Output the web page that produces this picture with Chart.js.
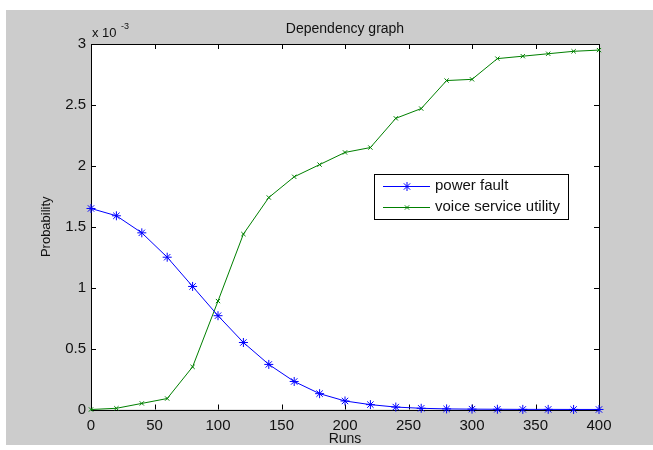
<!DOCTYPE html>
<html>
<head>
<meta charset="utf-8">
<script src="https://cdn.jsdelivr.net/npm/chart.js@4"></script>
<style>
  html, body { margin: 0; padding: 0; background: #ffffff; }
  #wrap { width: 653px; height: 450px; position: relative; }
</style>
</head>
<body>
<div id="wrap"><canvas id="depChart"></canvas></div>
<script>
// Data (probabilities, axis shows them x 10^-3)
const runs = [0, 20, 40, 60, 80, 100, 120, 140, 160, 180, 200, 220, 240, 260, 280, 300, 320, 340, 360, 380, 400];
const powerFault = [0.00165, 0.00159, 0.00145, 0.00125, 0.00101, 0.00077, 0.00055, 0.00037, 0.00023, 0.00013, 0.00007,
    0.00004, 0.00002, 0.00001, 0.000005, 0.000003, 0.000002, 0.000001, 0.000001, 0.0000005, 0.0000003];
const voiceService = [0.0, 0.00001, 0.00005, 0.00009, 0.00035, 0.00089, 0.00144, 0.00174, 0.00191, 0.00201, 0.00211,
    0.00215, 0.00239, 0.00247, 0.00270, 0.00271, 0.00288, 0.00290, 0.00292, 0.00294, 0.00295];
const seriesLabels = ["power fault", "voice service utility"];
const xTicks = [0, 50, 100, 150, 200, 250, 300, 350, 400];
const yTicks = [0, 0.0005, 0.001, 0.0015, 0.002, 0.0025, 0.003];

const FONT = "'Liberation Sans', Arial, sans-serif";

// gray figure background + white axes area
const backgroundPlugin = {
    id: "figureBg",
    beforeDraw(chart) {
        const c = chart.ctx;
        const a = chart.chartArea;
        c.save();
        c.fillStyle = "#cccccc";
        c.fillRect(6, 10, chart.width - 6, 435);
        c.fillStyle = "#ffffff";
        c.fillRect(a.left, a.top, a.right - a.left, a.bottom - a.top);
        c.restore();
    }
};

// matlab style box with inward ticks, title and exponent label
const framePlugin = {
    id: "frame",
    beforeDatasetsDraw(chart) {
        const c = chart.ctx;
        const a = chart.chartArea;
        const xs = chart.scales.x;
        const ys = chart.scales.y;
        c.save();
        c.strokeStyle = "#000000";
        c.lineWidth = 1;
        c.beginPath();
        c.rect(Math.round(a.left) + 0.5, Math.round(a.top) + 0.5,
            Math.round(a.right - a.left), Math.round(a.bottom - a.top));
        xTicks.forEach(v => {
            const px = Math.round(xs.getPixelForValue(v)) + 0.5;
            c.moveTo(px, a.bottom); c.lineTo(px, a.bottom - 5);
            c.moveTo(px, a.top); c.lineTo(px, a.top + 5);
        });
        yTicks.forEach(v => {
            const py = Math.round(ys.getPixelForValue(v)) + 0.5;
            c.moveTo(a.left, py); c.lineTo(a.left + 5, py);
            c.moveTo(a.right, py); c.lineTo(a.right - 5, py);
        });
        c.stroke();

        c.fillStyle = "#111111";
        c.textAlign = "center";
        c.textBaseline = "alphabetic";
        c.font = "14px " + FONT;
        c.fillText("Dependency graph", (a.left + a.right) / 2, 33);

        c.textAlign = "left";
        c.font = "13px " + FONT;
        c.fillText("x 10", 92, 37);
        c.font = "9px " + FONT;
        c.fillText("-3", 121, 29);
        c.restore();
    }
};

// legend box drawn like the matlab one
const legendPlugin = {
    id: "boxLegend",
    afterDraw(chart) {
        const c = chart.ctx;
        const left = 374, top = 174, w = 194, h = 45;
        c.save();
        c.fillStyle = "#ffffff";
        c.fillRect(left, top, w, h);
        c.strokeStyle = "#000000";
        c.lineWidth = 1;
        c.strokeRect(left + 0.5, top + 0.5, w, h);
        const rows = [186, 207];
        chart.data.datasets.forEach((ds, i) => {
            const y = rows[i] + 0.5;
            c.strokeStyle = ds.borderColor;
            c.beginPath();
            c.moveTo(383, y); c.lineTo(430, y);
            c.stroke();
            Chart.helpers.drawPoint(c, {
                pointStyle: ds.pointStyle,
                radius: ds.pointRadius,
                borderWidth: 1
            }, 407, y);
            c.fillStyle = "#111111";
            c.font = "15px " + FONT;
            c.textBaseline = "middle";
            c.textAlign = "left";
            c.fillText(ds.label, 435, rows[i]);
        });
        c.restore();
    }
};

const ctx = document.getElementById("depChart").getContext("2d");
const depChart = new Chart(ctx, {
    type: "line",
    data: {
        datasets: [{
            label: seriesLabels[0],
            data: runs.map((r, i) => ({ x: r, y: powerFault[i] })),
            borderColor: "#0000ff",
            backgroundColor: "#0000ff",
            borderWidth: 1,
            pointStyle: "star",
            pointRadius: 4.5,
            pointBorderWidth: 1,
            tension: 0,
            fill: false,
            clip: false
        }, {
            label: seriesLabels[1],
            data: runs.map((r, i) => ({ x: r, y: voiceService[i] })),
            borderColor: "#008000",
            backgroundColor: "#008000",
            borderWidth: 1,
            pointStyle: "crossRot",
            pointRadius: 3,
            pointBorderWidth: 1,
            tension: 0,
            fill: false,
            clip: false
        }]
    },
    options: {
        responsive: true,
        maintainAspectRatio: false,
        animation: false,
        events: [],
        layout: {
            padding: { left: 35, top: 44, right: 54, bottom: 0 }
        },
        plugins: {
            legend: { display: false },
            tooltip: { enabled: false },
            title: { display: false }
        },
        scales: {
            x: {
                type: "linear",
                min: 0,
                max: 400,
                grid: { display: false, drawTicks: false },
                border: { display: false },
                afterBuildTicks: scale => { scale.ticks = xTicks.map(v => ({ value: v })); },
                afterFit: scale => { scale.height = 40.5; },
                ticks: {
                    padding: 7,
                    color: "#111111",
                    font: { family: FONT, size: 15 },
                    maxRotation: 0
                },
                title: {
                    display: true,
                    text: "Runs",
                    color: "#111111",
                    font: { family: FONT, size: 14 },
                    padding: { top: 0, bottom: 2 }
                }
            },
            y: {
                min: 0,
                max: 0.003,
                grid: { display: false, drawTicks: false },
                border: { display: false },
                afterBuildTicks: scale => { scale.ticks = yTicks.map(v => ({ value: v })); },
                afterFit: scale => { scale.width = 56; },
                ticks: {
                    padding: 5,
                    color: "#111111",
                    font: { family: FONT, size: 15 },
                    callback: v => String(Math.round(v * 10000) / 10)
                },
                title: {
                    display: true,
                    text: "Probability",
                    color: "#111111",
                    font: { family: FONT, size: 13 },
                    padding: { top: 4, bottom: 0 }
                }
            }
        }
    },
    plugins: [backgroundPlugin, framePlugin, legendPlugin]
});
</script>
</body>
</html>
